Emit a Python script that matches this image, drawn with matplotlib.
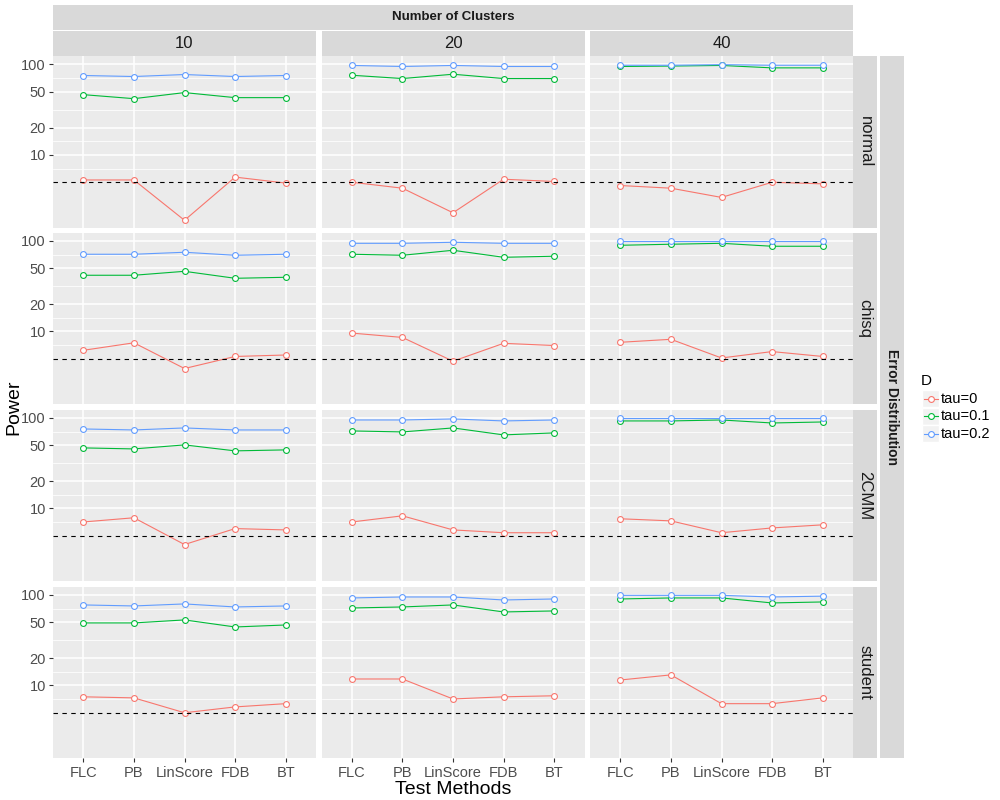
import matplotlib
matplotlib.use("Agg")
import matplotlib.pyplot as plt
from matplotlib.patches import Rectangle
from matplotlib.lines import Line2D

plt.rcParams['font.family'] = ['Liberation Sans', 'DejaVu Sans']

methods = ["FLC", "PB", "LinScore", "FDB", "BT"]
clusters = ["10", "20", "40"]
distributions = ["normal", "chisq", "2CMM", "student"]
taus = ["tau=0", "tau=0.1", "tau=0.2"]
tau_colors = ["#F8766D", "#00BA38", "#619CFF"]
nominal_level = 5

# power values, one list per cluster size (10, 20, 40), methods in order above
tau0_normal = [[5.3, 5.3, 1.9, 5.7, 4.9], [5.0, 4.3, 2.3, 5.4, 5.1], [4.6, 4.3, 3.4, 5.0, 4.8]]
tau01_normal = [[46.4, 41.9, 48.9, 43.0, 43.0], [76.0, 69.9, 78.0, 69.9, 69.9], [95.0, 96.0, 97.5, 91.7, 91.7]]
tau02_normal = [[75.5, 73.6, 77.4, 73.6, 75.5], [97.5, 95.0, 97.5, 95.0, 95.0], [98.0, 98.0, 99.5, 98.0, 98.0]]

tau0_chisq = [[6.2, 7.5, 3.9, 5.3, 5.5], [9.6, 8.6, 4.7, 7.4, 7.0], [7.6, 8.2, 5.1, 6.0, 5.3]]
tau01_chisq = [[41.8, 41.8, 46.2, 38.7, 39.7], [71.3, 69.5, 78.9, 66.0, 67.8], [89.6, 92.0, 94.2, 87.4, 87.4]]
tau02_chisq = [[71.3, 71.3, 75.0, 69.5, 71.3], [94.2, 94.2, 96.7, 94.2, 94.2], [99.0, 99.0, 99.0, 99.0, 99.0]]

tau0_2cmm = [[7.1, 7.9, 4.0, 6.0, 5.8], [7.1, 8.3, 5.8, 5.4, 5.4], [7.7, 7.3, 5.4, 6.1, 6.6]]
tau01_2cmm = [[46.7, 45.5, 50.4, 43.3, 44.4], [71.9, 70.1, 77.6, 65.0, 68.4], [92.7, 92.7, 95.0, 88.0, 90.3]]
tau02_2cmm = [[75.6, 73.7, 77.6, 73.7, 73.7], [95.0, 95.0, 97.5, 92.7, 95.0], [99.0, 99.0, 99.0, 99.0, 99.0]]

tau0_student = [[7.5, 7.3, 5.0, 5.8, 6.3], [11.8, 11.8, 7.1, 7.5, 7.7], [11.5, 13.1, 6.3, 6.3, 7.3]]
tau01_student = [[49.1, 49.1, 53.0, 44.3, 46.6], [71.8, 73.7, 77.6, 64.9, 66.6], [90.3, 92.7, 92.7, 81.6, 83.7]]
tau02_student = [[77.6, 75.6, 79.6, 73.7, 75.6], [92.7, 95.0, 95.0, 88.0, 90.3], [99.0, 99.0, 99.0, 95.0, 97.0]]

power = {
    "normal": [tau0_normal, tau01_normal, tau02_normal],
    "chisq": [tau0_chisq, tau01_chisq, tau02_chisq],
    "2CMM": [tau0_2cmm, tau01_2cmm, tau02_2cmm],
    "student": [tau0_student, tau01_student, tau02_student],
}

W, H = 1000, 800
fig = plt.figure(figsize=(10, 8), dpi=100)


def box(x0, y0, x1, y1):
    # pixel box (top-left origin) -> figure fraction rect
    return [x0 / W, 1 - y1 / H, (x1 - x0) / W, (y1 - y0) / H]


def strip(x0, y0, x1, y1, text, rotation=0, **kw):
    fig.add_artist(Rectangle((x0 / W, 1 - y1 / H), (x1 - x0) / W, (y1 - y0) / H,
                             transform=fig.transFigure, facecolor='#D9D9D9',
                             edgecolor='none'))
    fig.text((x0 + x1) / 2 / W, 1 - (y0 + y1) / 2 / H, text, rotation=rotation,
             ha='center', va='center', color='#1A1A1A', **kw)


col_x = [53, 321.5, 590]
col_w = 263
row_y = [56, 232.5, 409.5, 586.5]
row_h = 171.8
x = list(range(1, len(methods) + 1))

for r, dist in enumerate(distributions):
    for c, cl in enumerate(clusters):
        ax = fig.add_axes(box(col_x[c], row_y[r], col_x[c] + col_w, row_y[r] + row_h))
        ax.set_facecolor('#EBEBEB')
        for s in ax.spines.values():
            s.set_visible(False)
        for t, tau in enumerate(taus):
            ax.plot(x, power[dist][t][c], color=tau_colors[t], lw=0.8,
                    marker='o', markersize=4.2, markerfacecolor='white',
                    markeredgecolor=tau_colors[t], markeredgewidth=0.8, zorder=3)
        ax.axhline(nominal_level, color='black', lw=0.8, ls=(0, (4, 4)), zorder=4)
        ax.set_yscale('log')
        ax.set_ylim(1.57, 124)
        ax.set_xlim(0.4, 5.6)
        ax.set_yticks([10, 20, 50, 100])
        ax.set_yticks([7.07, 14.14, 31.62, 70.71], minor=True)
        ax.set_yticklabels(["10", "20", "50", "100"])
        ax.set_xticks(x)
        ax.set_xticklabels(methods)
        ax.grid(which='major', color='white', lw=1.1)
        ax.grid(which='minor', axis='y', color='white', lw=0.55)
        ax.set_axisbelow(True)
        ax.tick_params(which='minor', length=0, labelleft=False)
        ax.tick_params(which='major', length=3.2, width=0.8, color='#333333',
                       labelsize=10.5, labelcolor='#4D4D4D', pad=2)
        if c > 0:
            ax.tick_params(axis='y', which='major', length=0, labelleft=False)
        if r < len(distributions) - 1:
            ax.tick_params(axis='x', which='major', length=0, labelbottom=False)
        if c == len(clusters) - 1:
            strip(col_x[c] + col_w, row_y[r], col_x[c] + col_w + 24, row_y[r] + row_h,
                  dist, rotation=-90, fontsize=12)

# column strips
for c, cl in enumerate(clusters):
    strip(col_x[c], 31.5, col_x[c] + col_w, 56, cl, fontsize=12)

strip(53, 5, 853, 29.5, "Number of Clusters", fontsize=9.5, fontweight='bold')
strip(880, 56, 904, 758.3, "Error Distribution", rotation=-90, fontsize=10,
      fontweight='bold')

fig.text(14 / W, 1 - 407 / H, "Power", rotation=90, ha='center', va='center',
         fontsize=14)
fig.text(453 / W, 1 - 789 / H, "Test Methods", ha='center', va='center',
         fontsize=14)

# legend
fig.text(921 / W, 1 - 381 / H, "D", ha='left', va='center', fontsize=11)
key_y = [398.7, 416.2, 433.7]
for t, tau in enumerate(taus):
    y0 = key_y[t] - 8.6
    fig.add_artist(Rectangle((922 / W, 1 - (y0 + 17.3) / H), 17.3 / W, 17.3 / H,
                             transform=fig.transFigure, facecolor='#F2F2F2',
                             edgecolor='white', lw=1))
    fig.add_artist(Line2D([923.5 / W, 937.8 / W], [1 - key_y[t] / H] * 2,
                          transform=fig.transFigure, color=tau_colors[t], lw=0.8))
    fig.add_artist(Line2D([930.6 / W], [1 - key_y[t] / H], transform=fig.transFigure,
                          marker='o', markersize=4.2, markerfacecolor='white',
                          markeredgecolor=tau_colors[t], markeredgewidth=0.8))
    fig.text(941 / W, 1 - key_y[t] / H, tau, ha='left', va='center', fontsize=10.5)

fig.savefig("out.png", dpi=100, facecolor='white')
